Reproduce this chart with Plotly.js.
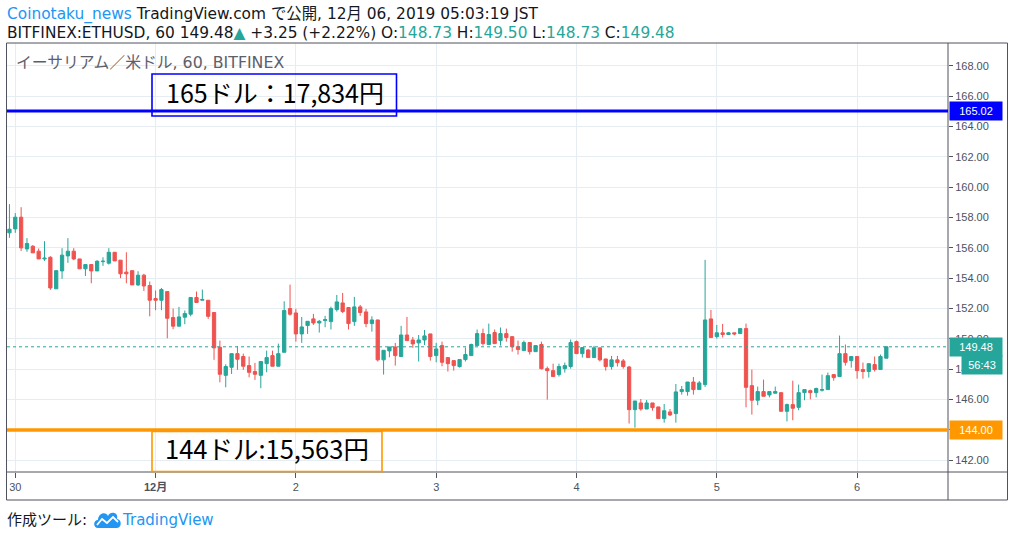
<!DOCTYPE html>
<html>
<head>
<meta charset="utf-8">
<script src="https://cdn.plot.ly/plotly-3.0.1.min.js"></script>
<style>
html,body{margin:0;padding:0;background:#fff;}
#chart{width:1014px;height:537px;}
</style>
</head>
<body>
<div id="chart"></div>
<script>
// ---- data (ETHUSD, 60 min, BITFINEX; first candle 2019-11-29 23:00 JST) ----
const startTime = '2019-11-29T23:00';
const openPrices = [
156.99,157.25,158.02,155.93,156.11,155.78,155.27,155.38,153.30,154.48,
155.47,155.78,155.27,154.62,154.90,154.48,155.09,154.99,155.71,155.19,
154.40,154.50,153.56,154.20,153.52,152.66,152.55,153.12,151.41,150.84,
151.43,151.63,152.73,152.55,152.55,151.74,149.45,147.60,148.13,149.03,
148.84,148.24,147.85,147.60,148.37,148.90,148.20,149.12,152.00,151.71,
150.33,150.88,151.32,151.05,151.21,151.14,151.93,152.37,152.07,151.14,
152.11,151.78,151.01,151.25,148.62,149.21,149.47,148.84,150.26,149.93,
149.74,149.93,150.33,148.90,149.56,148.77,148.57,148.18,148.64,148.90,
149.56,150.35,149.63,150.42,149.89,150.35,150.15,149.49,149.23,149.76,
149.16,149.63,148.04,147.91,147.65,148.04,148.18,149.82,149.03,149.27,
148.77,149.41,148.68,148.18,148.62,148.55,148.15,145.34,145.78,145.38,
145.78,145.52,144.75,145.19,145.08,146.53,146.53,147.16,146.66,146.99,
151.32,150.15,150.40,150.29,150.40,150.35,150.68,146.92,145.96,146.53,
146.31,146.42,146.46,145.23,145.67,145.49,146.46,146.59,146.46,146.62,
146.66,147.65,147.52,149.03,148.57,148.84,147.98,147.85,148.31,147.98,
148.73];
const highPrices = [
158.88,158.29,158.68,156.64,156.18,155.96,156.44,155.45,154.50,155.98,
156.64,155.98,155.27,154.90,154.90,155.19,155.38,155.98,155.71,155.19,
155.71,154.50,154.46,154.29,153.78,153.19,153.36,153.12,152.00,152.11,
151.87,152.73,153.12,153.25,152.55,151.74,149.89,148.33,149.03,149.52,
149.03,148.84,148.42,148.51,149.23,149.23,149.69,152.48,153.58,151.98,
151.45,151.16,151.65,151.25,151.52,152.13,152.90,153.03,152.07,152.77,
152.24,151.98,151.49,151.25,149.25,149.47,149.74,150.86,151.45,150.13,
150.26,150.59,150.33,149.74,149.82,148.77,148.57,148.64,149.43,149.69,
150.62,150.68,151.01,150.62,150.75,150.68,150.15,149.89,149.89,149.76,
149.56,149.82,148.18,148.37,148.37,148.44,149.96,149.89,149.43,149.34,
149.54,149.41,148.68,148.88,148.88,148.68,148.22,145.91,146.04,145.98,
145.78,145.52,145.71,145.38,147.03,146.90,147.16,147.49,147.23,155.21,
151.91,150.92,150.99,150.46,150.40,150.68,151.01,147.98,146.86,147.32,
146.53,146.86,146.46,145.74,147.25,146.99,146.66,146.66,146.79,147.65,
147.78,147.65,150.22,149.63,148.84,148.84,148.44,148.37,148.84,148.97,
149.50];
const lowPrices = [
156.66,156.99,155.80,155.74,155.67,155.27,155.14,153.23,153.30,153.96,
155.01,155.19,154.62,154.15,153.67,154.48,154.81,154.90,155.14,154.00,
153.67,153.56,153.49,153.16,151.49,151.89,151.89,150.04,150.64,150.84,
150.97,151.49,152.40,152.55,151.32,148.62,147.14,146.81,147.69,147.96,
147.96,147.47,147.30,146.75,147.80,148.20,148.20,149.12,151.54,149.82,
149.74,150.33,150.92,150.42,150.77,150.62,151.80,151.71,150.62,150.86,
151.52,150.77,150.48,148.51,147.65,148.79,148.24,148.84,149.89,149.41,
148.51,149.60,148.57,148.46,148.20,147.85,147.91,148.11,148.51,148.90,
149.56,149.56,149.63,149.69,149.56,149.82,149.16,148.97,149.23,148.97,
149.16,147.98,146.00,147.52,147.52,147.78,148.04,149.03,148.77,148.77,
148.77,148.51,147.91,147.98,148.18,148.04,144.42,144.15,145.27,145.38,
145.27,144.75,144.48,144.92,144.48,146.33,146.26,146.33,146.66,146.84,
150.09,150.02,150.09,150.29,150.24,150.35,145.49,145.01,145.63,146.22,
146.15,146.42,145.23,144.57,144.64,145.30,145.96,146.02,146.15,146.53,
146.66,147.25,147.52,148.24,148.11,147.38,147.38,147.45,147.85,147.98,
148.73];
const closePrices = [
157.23,158.02,156.00,156.29,155.67,155.27,155.32,153.36,154.50,155.52,
155.78,155.27,154.62,154.90,154.48,155.12,155.12,155.71,155.14,154.29,
154.29,153.56,154.20,153.49,152.55,152.55,153.25,151.36,150.84,151.45,
151.67,152.73,152.40,152.60,151.49,149.41,147.67,148.18,149.03,148.66,
148.20,147.80,147.67,148.51,148.77,148.20,149.03,151.87,151.63,150.33,
150.79,151.16,151.05,151.16,151.27,152.00,152.44,151.80,151.01,152.11,
151.74,151.01,151.25,148.62,149.25,149.47,148.90,150.26,149.89,149.67,
149.93,150.20,148.84,149.34,148.46,148.37,148.24,148.64,148.97,149.63,
150.35,149.69,150.29,149.69,150.35,150.09,149.49,149.30,149.76,149.16,
149.56,148.04,147.91,147.52,148.18,148.24,149.76,149.03,149.43,148.77,
149.41,148.62,148.18,148.62,148.44,148.18,145.34,145.91,145.38,145.78,
145.47,144.75,145.27,144.99,146.51,146.66,147.16,146.66,147.10,151.25,
150.09,150.40,150.29,150.40,150.33,150.68,146.81,145.96,146.53,146.22,
146.53,146.53,145.23,145.67,145.43,146.46,146.66,146.46,146.73,146.66,
147.58,147.45,149.03,148.46,148.84,147.91,147.85,148.37,147.98,148.84,
149.48];

const dayTicks = ['2019-11-30','2019-12-01','2019-12-02','2019-12-03','2019-12-04','2019-12-05','2019-12-06'];
const dayLabels = ['30','<b>12月</b>','2','3','4','5','6'];
const priceTicks = [142,144,146,148,150,152,154,156,158,160,162,164,166,168];
const priceLabels = ['142.00','','146.00','148.00','150.00','152.00','154.00','156.00','158.00','160.00','162.00','164.00','166.00','168.00'];
const resistanceLevel = 165.02;
const supportLevel = 144.00;
const lastPrice = 149.48;
const countdown = '56:43';
const resistanceNote = '165ドル：17,834円';
const supportNote = '144ドル:15,563円';

// ---- hourly time stamps ----
function fmt(d){
  const p = n => String(n).padStart(2,'0');
  return d.getUTCFullYear()+'-'+p(d.getUTCMonth()+1)+'-'+p(d.getUTCDate())+' '+p(d.getUTCHours())+':00';
}
const t0 = new Date(startTime + ':00Z');
const times = openPrices.map((_, i) => fmt(new Date(t0.getTime() + i*3600000)));

// ---- pixel helpers (plot area 7..948 x 43..472) ----
const L=7, R=948, T=43, B=472;
const px = x => (x-L)/(R-L);
const py = y => (B-y)/(B-T);

const GREEN='#26a69a', RED='#ef5350', AX='#50535e', TXT='#4c525e', GRID='#e6edf2';
const FONT='Liberation Sans, Arial, Noto Sans CJK JP, sans-serif';
const HFONT='DejaVu Sans, Noto Sans CJK JP, sans-serif';
const JFONT='Noto Sans CJK JP, sans-serif';

const trace = {
  type:'candlestick', x:times,
  open:openPrices, high:highPrices, low:lowPrices, close:closePrices,
  increasing:{line:{color:GREEN,width:1}, fillcolor:GREEN},
  decreasing:{line:{color:RED,width:1}, fillcolor:RED},
  whiskerwidth:0, showlegend:false, hoverinfo:'skip'
};

// logo path in pixel coords -> paper
function P(x,y){ return px(x).toFixed(5)+','+py(y).toFixed(5); }
const cloud = 'M'+P(98,528)+' C'+P(93,528)+' '+P(93,520)+' '+P(98,520)+
  ' C'+P(98,513)+' '+P(106,511)+' '+P(108,516)+' C'+P(110,511)+' '+P(119,512)+' '+P(117,519)+
  ' C'+P(122,519)+' '+P(122,528)+' '+P(117,528)+' Z';
const zig = 'M'+P(97,525)+' L'+P(102,519)+' L'+P(107,523)+' L'+P(113,517)+' L'+P(118,522);

const shapes = [
  // frame
  {type:'rect', xref:'paper', yref:'paper', x0:px(6.5), x1:px(1007.5), y0:py(500), y1:py(43), line:{color:AX,width:1}, layer:'above'},
  {type:'line', xref:'paper', yref:'paper', x0:1, x1:1, y0:py(500), y1:py(43), line:{color:AX,width:1}, layer:'above'},
  {type:'line', xref:'paper', yref:'paper', x0:px(6.5), x1:px(1007.5), y0:0, y1:0, line:{color:AX,width:1}, layer:'above'},
  // levels
  {type:'line', xref:'paper', yref:'y', x0:0, x1:1, y0:resistanceLevel, y1:resistanceLevel, line:{color:'#0000ff',width:3}},
  {type:'line', xref:'paper', yref:'y', x0:0, x1:1, y0:supportLevel, y1:supportLevel, line:{color:'#ff9800',width:3.5}},
  {type:'line', xref:'paper', yref:'y', x0:0, x1:1, y0:lastPrice, y1:lastPrice, line:{color:GREEN,width:1,dash:'dot'}},
  // note boxes
  {type:'rect', xref:'paper', yref:'paper', x0:px(152), x1:px(396.5), y0:py(116), y1:py(74), line:{color:'#0000ff',width:1.6}},
  {type:'rect', xref:'paper', yref:'paper', x0:px(152), x1:px(382), y0:py(471.5), y1:py(431.5), line:{color:'#ff9800',width:1.6}},
  // logo
  {type:'path', xref:'paper', yref:'paper', path:cloud, fillcolor:'#2196f3', line:{width:0}},
  {type:'path', xref:'paper', yref:'paper', path:zig, line:{color:'#ffffff',width:1.8}}
];

const annotations = [
  {xref:'paper', yref:'paper', x:px(5), y:py(15), xanchor:'left', yanchor:'middle', showarrow:false,
   text:'<span style="color:#2196f3">Coinotaku_news</span> TradingView.com で公開, 12月 06, 2019 05:03:19 JST',
   font:{family:HFONT, size:15.4, color:'#131722'}},
  {xref:'paper', yref:'paper', x:px(5), y:py(33), xanchor:'left', yanchor:'middle', showarrow:false,
   text:'BITFINEX:ETHUSD, 60 149.48<span style="color:'+GREEN+'">▲</span> +3.25 (+2.22%) O:<span style="color:'+GREEN+'">148.73</span> H:<span style="color:'+GREEN+'">149.50</span> L:<span style="color:'+GREEN+'">148.73</span> C:<span style="color:'+GREEN+'">149.48</span>',
   font:{family:HFONT, size:15.4, color:'#131722'}},
  {xref:'paper', yref:'paper', x:px(14), y:py(62), xanchor:'left', yanchor:'middle', showarrow:false,
   text:'イーサリアム／米ドル, 60, BITFINEX', font:{family:HFONT, size:15.8, color:'#5d606b'}},
  {xref:'paper', yref:'paper', x:px(274.5), y:py(92), xanchor:'center', yanchor:'middle', showarrow:false,
   text:resistanceNote, font:{family:JFONT, size:25, color:'#000000'}},
  {xref:'paper', yref:'paper', x:px(267), y:py(447), xanchor:'center', yanchor:'middle', showarrow:false,
   text:supportNote, font:{family:JFONT, size:25.5, color:'#000000'}},
  // price axis labels
  {xref:'paper', yref:'y', x:px(949), y:resistanceLevel, xanchor:'left', yanchor:'middle', showarrow:false,
   text:resistanceLevel.toFixed(2), width:52, height:18, borderpad:0, bgcolor:'#0000ff', font:{family:FONT,size:11,color:'#ffffff'}},
  {xref:'paper', yref:'y', x:px(949), y:lastPrice, xanchor:'left', yanchor:'middle', showarrow:false,
   text:lastPrice.toFixed(2), width:52, height:18, borderpad:0, bgcolor:GREEN, font:{family:FONT,size:11,color:'#ffffff'}},
  {xref:'paper', yref:'paper', x:px(961), y:py(365), xanchor:'left', yanchor:'middle', showarrow:false,
   text:countdown, width:40, height:18, borderpad:0, bgcolor:GREEN, font:{family:FONT,size:11,color:'#ffffff'}},
  {xref:'paper', yref:'y', x:px(949), y:supportLevel, xanchor:'left', yanchor:'middle', showarrow:false,
   text:supportLevel.toFixed(2), width:52, height:18, borderpad:0, bgcolor:'#ff9800', font:{family:FONT,size:11,color:'#ffffff'}},
  // footer
  {xref:'paper', yref:'paper', x:px(5), y:py(520), xanchor:'left', yanchor:'middle', showarrow:false,
   text:'作成ツール:', font:{family:HFONT, size:15, color:'#131722'}},
  {xref:'paper', yref:'paper', x:px(120), y:py(520), xanchor:'left', yanchor:'middle', showarrow:false,
   text:'TradingView', font:{family:HFONT, size:15, color:'#2196f3'}}
];

const layout = {
  width:1014, height:537, autosize:false,
  margin:{l:7, r:66, t:43, b:65, pad:0},
  paper_bgcolor:'#ffffff', plot_bgcolor:'#ffffff',
  boxgap:0.2,
  showlegend:false,
  xaxis:{type:'date', range:['2019-11-29 22:35','2019-12-06 15:33'],
    tickvals:dayTicks, ticktext:dayLabels, tickmode:'array',
    showgrid:true, gridcolor:GRID, gridwidth:1, zeroline:false, showline:false,
    ticks:'outside', ticklen:5, tickcolor:AX, tickwidth:1,
    tickfont:{family:FONT, size:11, color:TXT},
    rangeslider:{visible:false}, fixedrange:true},
  yaxis:{side:'right', range:[141.23,169.5], tickvals:priceTicks, tickmode:'array',
    ticktext:priceLabels,
    showgrid:true, gridcolor:GRID, gridwidth:1, zeroline:false, showline:false,
    ticks:'outside', ticklen:4, tickcolor:AX, tickwidth:1,
    tickfont:{family:FONT, size:11, color:TXT}, fixedrange:true},
  shapes:shapes,
  annotations:annotations
};

Plotly.newPlot('chart', [trace], layout, {displayModeBar:false, staticPlot:true});
</script>
</body>
</html>
